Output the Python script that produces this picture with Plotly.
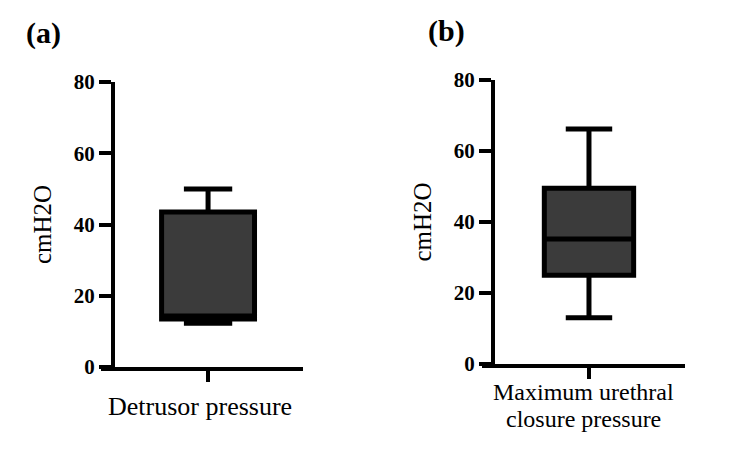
import plotly.graph_objects as go

# Data
categories_a = ["Detrusor pressure"]
categories_b = ["Maximum urethral closure pressure"]
label_a_lines = ["Detrusor pressure"]
label_b_lines = ["Maximum urethral", "closure pressure"]
lower_a = [12.3]; q1_a = [13.5]; median_a = [14.3]; q3_a = [43.5]; upper_a = [50.0]
lower_b = [13.0]; q1_b = [25.0]; median_b = [35.2]; q3_b = [49.5]; upper_b = [66.2]
y_ticks = [0, 20, 40, 60, 80]

W, H = 750, 454
FILL = "#3b3b3b"
FONT = "Liberation Serif"

fig = go.Figure()
fig.add_trace(go.Box(
    x=categories_a, q1=q1_a, median=median_a, q3=q3_a,
    lowerfence=lower_a, upperfence=upper_a,
    fillcolor=FILL, line=dict(color="black", width=5),
    width=0.46, whiskerwidth=0.52, xaxis="x", yaxis="y", showlegend=False,
))
fig.add_trace(go.Box(
    x=categories_b, q1=q1_b, median=median_b, q3=q3_b,
    lowerfence=lower_b, upperfence=upper_b,
    fillcolor=FILL, line=dict(color="black", width=5),
    width=0.44, whiskerwidth=0.52, xaxis="x2", yaxis="y2", showlegend=False,
))

def px_x(v):
    return v / W

def px_y(v):
    return 1 - v / H

common_x = dict(showline=True, linecolor="black", linewidth=4, ticks="outside",
                ticklen=11, tickwidth=4, tickcolor="black", showgrid=False,
                zeroline=False, showticklabels=False,
                type="category", automargin=False)
common_y = dict(showline=True, linecolor="black", linewidth=4, ticks="outside",
                ticklen=12, tickwidth=4, tickcolor="black", showgrid=False,
                zeroline=False, range=[0, 80], tickvals=y_ticks,
                tickfont=dict(family=FONT, size=21, color="black", weight="bold"),
                anchor="free", automargin=False,
                title=dict(text="cmH2O", font=dict(family=FONT, size=25, color="#000000"),
                           standoff=14))

annotations = [
    dict(text="<b>(a)</b>", x=px_x(24), y=px_y(33), xref="paper", yref="paper",
         xanchor="left", yanchor="middle", showarrow=False,
         font=dict(family=FONT, size=30, color="black")),
    dict(text="<b>(b)</b>", x=px_x(426), y=px_y(31), xref="paper", yref="paper",
         xanchor="left", yanchor="middle", showarrow=False,
         font=dict(family=FONT, size=30, color="black")),
]
for i, line in enumerate(label_a_lines):
    annotations.append(dict(text=line, x=px_x(200), y=px_y(406),
                            xref="paper", yref="paper", xanchor="center",
                            yanchor="middle", showarrow=False,
                            font=dict(family=FONT, size=26, color="black")))
for i, line in enumerate(label_b_lines):
    annotations.append(dict(text=line, x=px_x(583), y=px_y(392 + 27 * i),
                            xref="paper", yref="paper", xanchor="center",
                            yanchor="middle", showarrow=False, borderpad=0,
                            font=dict(family=FONT, size=24, color="black")))

fig.update_layout(
    width=W, height=H, margin=dict(l=0, r=0, t=0, b=0, autoexpand=False),
    paper_bgcolor="white", plot_bgcolor="white",
    xaxis=dict(domain=[px_x(101), px_x(303)], range=[-0.53, 0.47], anchor="y", **common_x),
    yaxis=dict(domain=[px_y(367), px_y(82)], position=px_x(113), **common_y),
    xaxis2=dict(domain=[px_x(482), px_x(685)], range=[-0.527, 0.473], anchor="y2", **common_x),
    yaxis2=dict(domain=[px_y(364), px_y(80)], position=px_x(493), **common_y),
    annotations=annotations,
)

fig.write_html("out.html")
